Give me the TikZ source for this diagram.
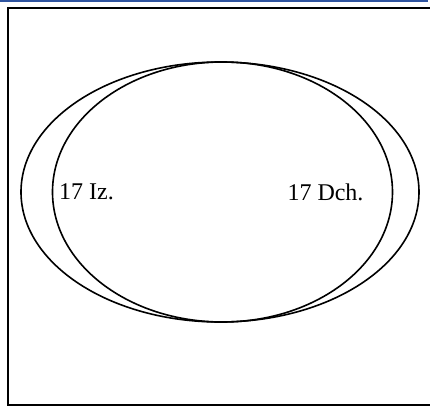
\documentclass[tikz,border=0pt]{standalone}
\usepackage{fontspec}
\setmainfont{Liberation Serif}
\definecolor{topblue}{RGB}{47,84,160}

\begin{document}
\begin{tikzpicture}[x=0.75pt,y=-0.75pt,
  frameline/.style={line width=1.3pt},
  ring/.style={line width=1.2pt},
  lbl/.style={font=\fontsize{18}{21}\selectfont, inner sep=0pt}]
\useasboundingbox (0,0) rectangle (430,408);
\draw[topblue, line width=1.5pt] (0,0.8) -- (428,0.8);
\draw[frameline] (431,8) -- (8,8) -- (8,405) -- (431,405);

\draw[ring] (220,192) ellipse (199 and 130);
\draw[ring] (222.5,192) ellipse (170 and 130);

\node[lbl] (iz) at (86.5,192) {17 Iz.};
\node[lbl] (dch) at (325.5,192) {17 Dch.};
\end{tikzpicture}
\end{document}
